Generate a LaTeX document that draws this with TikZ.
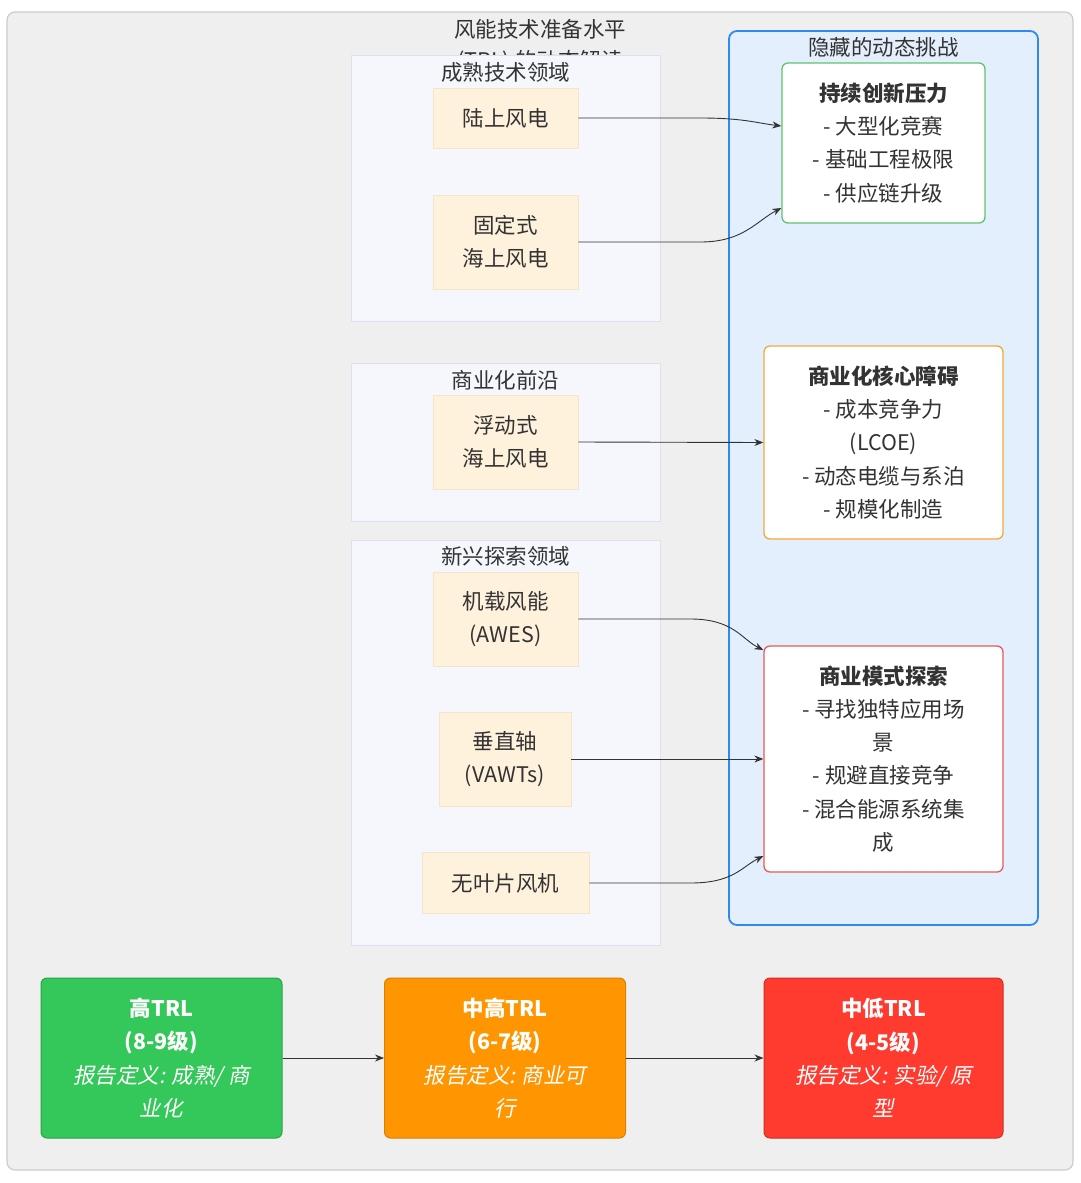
\documentclass[tikz,border=0pt]{standalone}
\usepackage{fontspec}
\setmainfont{Noto Sans CJK SC}[AutoFakeSlant=0.2]
\usetikzlibrary{arrows.meta,calc}
\definecolor{txt}{HTML}{333333}
\definecolor{outerfill}{HTML}{EFEFEF}
\definecolor{outerdraw}{HTML}{CCCCCC}
\definecolor{sgfill}{HTML}{F5F7FD}
\definecolor{sgdraw}{HTML}{DDE1EE}
\definecolor{techfill}{HTML}{FEF2DC}
\definecolor{techdraw}{HTML}{F4E5C6}
\definecolor{bluefill}{HTML}{E3EFFC}
\definecolor{bluedraw}{HTML}{2E8AF0}
\definecolor{cgreen}{HTML}{5DC56A}
\definecolor{corange}{HTML}{F5A83A}
\definecolor{cred}{HTML}{E8595A}
\definecolor{bgreen}{HTML}{34C759}
\definecolor{bgreend}{HTML}{2AA248}
\definecolor{borange}{HTML}{FF9500}
\definecolor{boranged}{HTML}{D98000}
\definecolor{bred}{HTML}{FF3B30}
\definecolor{bredd}{HTML}{CC2F26}
\tikzset{
  base/.style={font=\fontsize{21.5}{33.3}\selectfont, text=txt, align=center, inner sep=0pt},
  group/.style={fill=sgfill, draw=sgdraw, line width=0.8pt},
  tech/.style={base, rectangle, fill=techfill, draw=techdraw, line width=0.8pt},
  chal/.style={base, rectangle, rounded corners=6pt, fill=white, line width=1.3pt, minimum width=239pt},
  trl/.style={base, rectangle, rounded corners=6pt, line width=1pt, minimum width=241pt, minimum height=160pt, text=white},
  glabel/.style={base},
  edge/.style={draw=txt, line width=0.9pt, -{Stealth[length=9pt,width=7pt]}},
}
\begin{document}
\begin{tikzpicture}[x=1pt,y=-1pt]
\useasboundingbox (0,0) rectangle (1080,1183);
\fill[white] (0,0) rectangle (1080,1183);
% outer frame
\draw[fill=outerfill, draw=outerdraw, line width=1.2pt, rounded corners=8pt] (7,12) rectangle (1073,1170);
% title
\node[glabel] (title1) at (540,29) {风能技术准备水平};
\node[glabel] (title2) at (540,62) {(TRL) 的动态解读};
% groups
\draw[group] (351,55) rectangle (660,321);
\node[glabel] (g1) at (505.5,72) {成熟技术领域};
\draw[group] (351,363) rectangle (660,521);
\node[glabel] (g2) at (505.5,380) {商业化前沿};
\draw[group] (351,540) rectangle (660,945);
\node[glabel] (g3) at (505.5,556) {新兴探索领域};
\draw[fill=bluefill, draw=bluedraw, line width=1.8pt, rounded corners=8pt] (729,31) rectangle (1038,925);
\node[glabel] (g4) at (883.5,47) {隐藏的动态挑战};
% tech nodes
\node[tech, minimum width=145pt, minimum height=60pt] (n1) at (505.5,118) {陆上风电};
\node[tech, minimum width=145pt, minimum height=94pt] (n2) at (505.5,242) {固定式\\海上风电};
\node[tech, minimum width=145pt, minimum height=94pt] (n3) at (505.5,442) {浮动式\\海上风电};
\node[tech, minimum width=145pt, minimum height=94pt] (n4) at (505.5,619) {机载风能\\(AWES)};
\node[tech, minimum width=132pt, minimum height=94pt] (n5) at (505,759) {垂直轴\\(VAWTs)};
\node[tech, minimum width=167pt, minimum height=61pt] (n6) at (505.5,883) {无叶片风机};
% challenge nodes
\node[chal, draw=cgreen, minimum width=203pt, minimum height=160pt] (p1) at (883.5,143) {\textbf{持续创新压力}\\- 大型化竞赛\\- 基础工程极限\\- 供应链升级};
\node[chal, draw=corange, minimum height=193pt] (p2) at (883.5,442.5) {\textbf{商业化核心障碍}\\- 成本竞争力\\(LCOE)\\- 动态电缆与系泊\\- 规模化制造};
\node[chal, draw=cred, minimum height=226pt] (p3) at (883.5,759) {\textbf{商业模式探索}\\- 寻找独特应用场\\景\\- 规避直接竞争\\- 混合能源系统集\\成};
% TRL nodes
\node[trl, fill=bgreen, draw=bgreend] (b1) at (161.5,1058) {\textbf{高TRL}\\\textbf{(8-9级)}\\\textit{报告定义: 成熟/ 商}\\\textit{业化}};
\node[trl, fill=borange, draw=boranged] (b2) at (505,1058) {\textbf{中高TRL}\\\textbf{(6-7级)}\\\textit{报告定义: 商业可}\\\textit{行}};
\node[trl, fill=bred, draw=bredd, minimum width=239pt] (b3) at (883.5,1058) {\textbf{中低TRL}\\\textbf{(4-5级)}\\\textit{报告定义: 实验/ 原}\\\textit{型}};
% edges
\draw[edge] (n1.east) -- ($(n1.east)+(122,0)$) .. controls ($(n1.east)+(165,0)$) and ($(p1.west)+(-25,-20)$) .. ($(p1.west)+(0,-17)$);
\draw[edge] (n2.east) -- ($(n2.east)+(122,0)$) .. controls ($(n2.east)+(165,0)$) and ($(p1.west)+(-25,78)$) .. ($(p1.west)+(0,65)$);
\draw[edge] (n3.east) -- (p2.west);
\draw[edge] (n4.east) -- ($(n4.east)+(112,0)$) .. controls ($(n4.east)+(155,0)$) and ($(p3.west)+(-22,-120)$) .. ($(p3.west)+(0,-109)$);
\draw[edge] (n5.east) -- (p3.west);
\draw[edge] (n6.east) -- ($(n6.east)+(101,0)$) .. controls ($(n6.east)+(144,0)$) and ($(p3.west)+(-22,108)$) .. ($(p3.west)+(0,97)$);
\draw[edge] (b1.east) -- (b2.west);
\draw[edge] (b2.east) -- (b3.west);
\end{tikzpicture}
\end{document}
